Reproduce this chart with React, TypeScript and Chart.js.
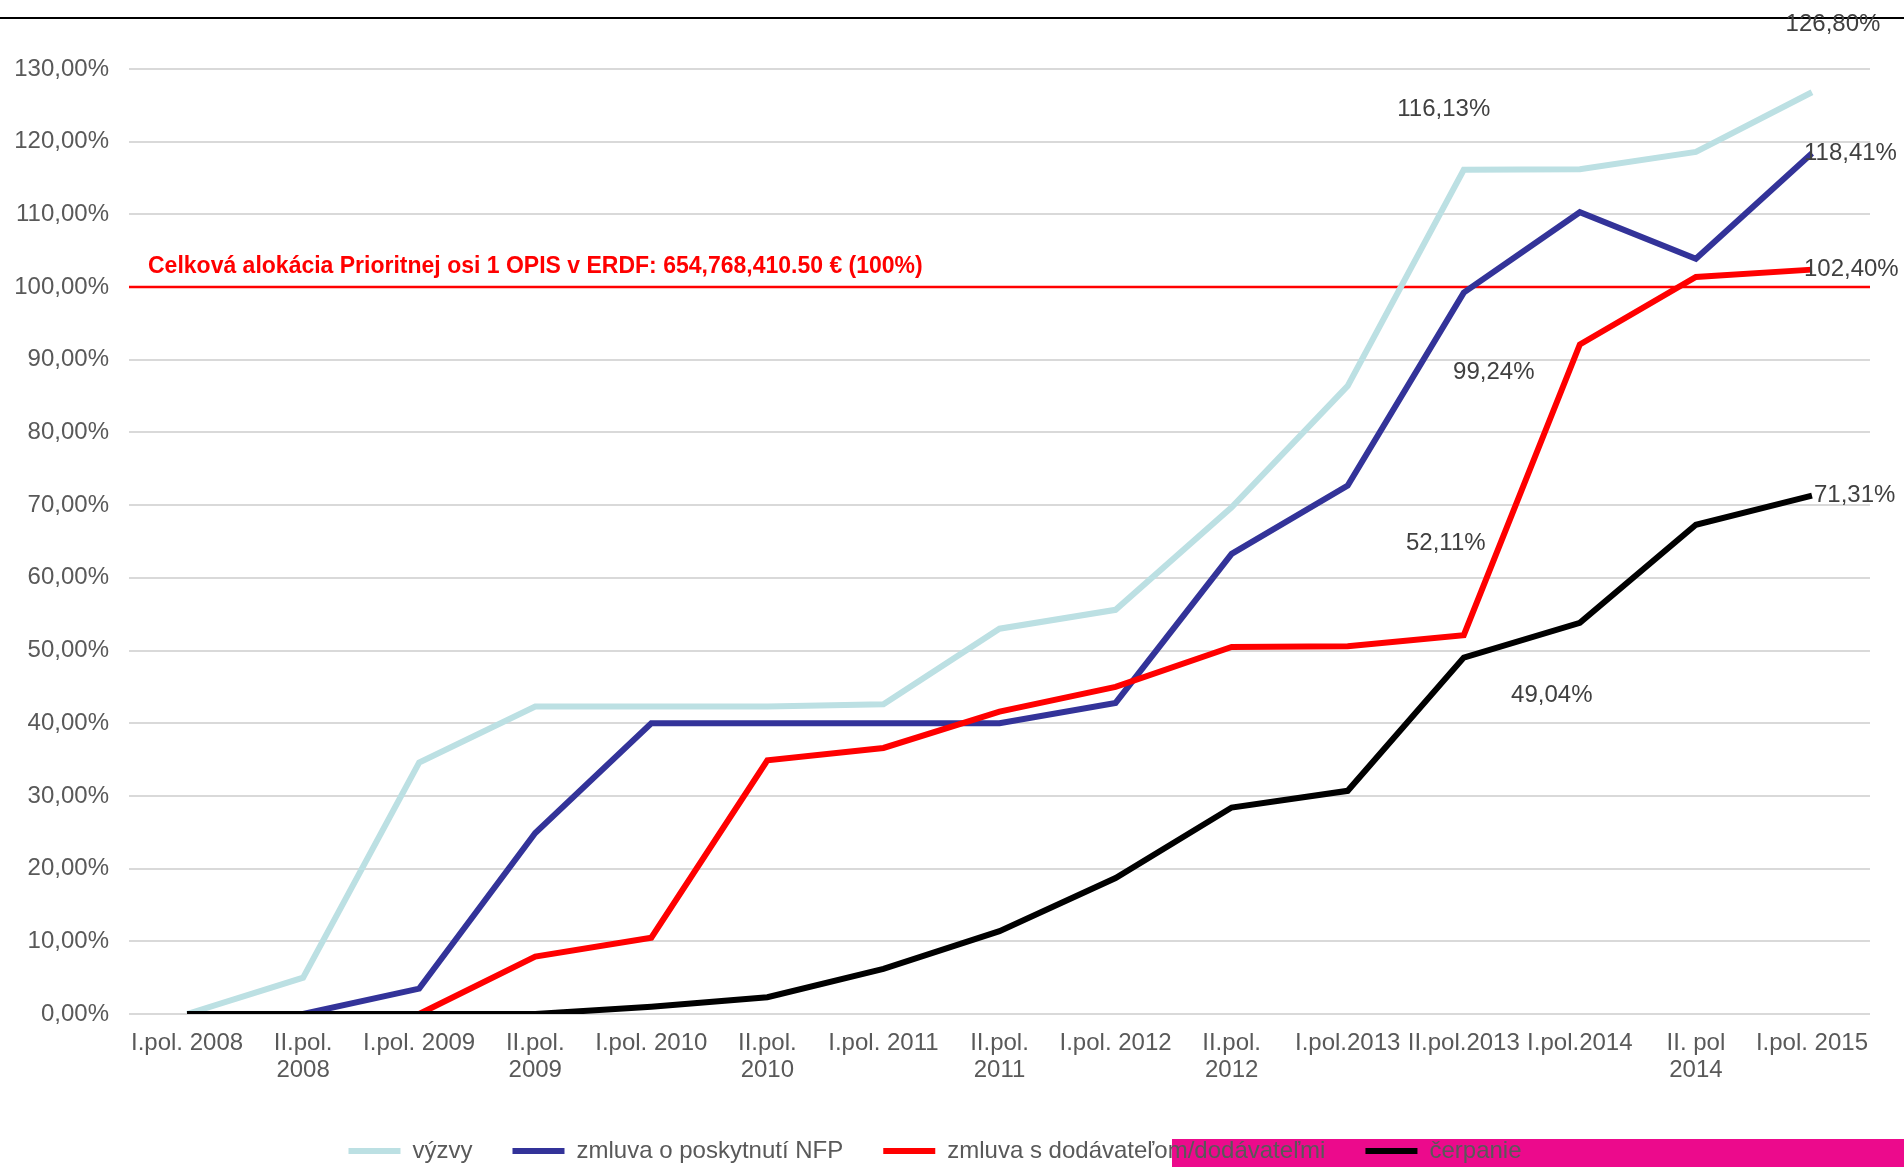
import React, { useEffect, useRef } from 'react';
import { Chart, registerables } from 'chart.js';

Chart.register(...registerables);

const categories: (string | string[])[] = [
  'I.pol. 2008', ['II.pol.', '2008'], 'I.pol. 2009', ['II.pol.', '2009'],
  'I.pol. 2010', ['II.pol.', '2010'], 'I.pol. 2011', ['II.pol.', '2011'],
  'I.pol. 2012', ['II.pol.', '2012'], 'I.pol.2013', 'II.pol.2013',
  'I.pol.2014', ['II. pol', '2014'], 'I.pol. 2015',
];

const vyzvy = [0, 5.0, 34.6, 42.3, 42.3, 42.3, 42.6, 53.0, 55.6, 69.7, 86.4, 116.13, 116.2, 118.6, 126.8];
const zmluvaNFP = [0, 0, 3.5, 24.9, 40.0, 40.0, 40.0, 40.0, 42.8, 63.3, 72.7, 99.24, 110.3, 103.9, 118.41];
const zmluvaDodavatel = [0, 0, 0, 7.9, 10.5, 34.9, 36.6, 41.6, 45.0, 50.5, 50.6, 52.11, 92.1, 101.4, 102.4];
const cerpanie = [0, 0, 0, 0, 1.0, 2.3, 6.2, 11.4, 18.7, 28.4, 30.7, 49.04, 53.8, 67.3, 71.31];

const seriesNames = ['výzvy', 'zmluva o poskytnutí NFP', 'zmluva s dodávateľom/dodávateľmi', 'čerpanie'];
const seriesColors = ['#BCE0E3', '#333399', '#FF0000', '#000000'];

const yMin = 0;
const yMax = 130;
const yStep = 10;

const allocationValue = 100;
const allocationLabel = 'Celková alokácia Prioritnej osi 1 OPIS v ERDF: 654,768,410.50 € (100%)';

// which points carry a value label: [seriesIndex, pointIndex]
const labelledPoints: [number, number][] = [
  [0, 14], [0, 11], [1, 14], [1, 11], [2, 14], [2, 11], [3, 14], [3, 11],
];

const FONT = '"Liberation Sans", Arial, sans-serif';
const fmt = (v: number) => v.toFixed(2).replace('.', ',') + '%';

// label placement relative to the point (style, not data)
const labelOffsets: Record<string, { dx: number; dy: number; align: CanvasTextAlign }> = {
  '0-14': { dx: 21, dy: -68, align: 'center' },
  '0-11': { dx: -20, dy: -60, align: 'center' },
  '1-14': { dx: -8, dy: 0, align: 'left' },
  '1-11': { dx: 30, dy: 80, align: 'center' },
  '2-14': { dx: -8, dy: 0, align: 'left' },
  '2-11': { dx: -18, dy: -92, align: 'center' },
  '3-14': { dx: 2, dy: 0, align: 'left' },
  '3-11': { dx: 88, dy: 38, align: 'center' },
};

const decorPlugin = {
  id: 'decor',
  beforeDraw(chart: any) {
    const { ctx, width } = chart;
    ctx.save();
    ctx.fillStyle = '#FFFFFF';
    ctx.fillRect(0, 0, chart.width, chart.height);
    ctx.fillStyle = '#EC0A8C';
    ctx.fillRect(1172, 1139, width - 1172, chart.height - 1139);
    ctx.strokeStyle = '#000000';
    ctx.lineWidth = 2;
    ctx.beginPath();
    ctx.moveTo(0, 18);
    ctx.lineTo(width, 18);
    ctx.stroke();
    ctx.restore();
  },
  beforeDatasetsDraw(chart: any) {
    const { ctx, chartArea } = chart;
    const y = chart.scales.y.getPixelForValue(allocationValue);
    ctx.save();
    ctx.strokeStyle = '#FF0000';
    ctx.lineWidth = 2.5;
    ctx.beginPath();
    ctx.moveTo(chartArea.left, y);
    ctx.lineTo(chartArea.right, y);
    ctx.stroke();
    ctx.fillStyle = '#FF0000';
    ctx.font = `bold 23px ${FONT}`;
    ctx.textAlign = 'left';
    ctx.textBaseline = 'middle';
    ctx.fillText(allocationLabel, chartArea.left + 19, y - 20);
    ctx.restore();
  },
  afterDatasetsDraw(chart: any) {
    const { ctx } = chart;
    ctx.save();
    ctx.fillStyle = '#404040';
    ctx.font = `24px ${FONT}`;
    ctx.textBaseline = 'middle';
    labelledPoints.forEach(([s, i]) => {
      const el = chart.getDatasetMeta(s).data[i];
      const value = chart.data.datasets[s].data[i] as number;
      const off = labelOffsets[`${s}-${i}`];
      ctx.textAlign = off.align;
      ctx.fillText(fmt(value), el.x + off.dx, el.y + off.dy);
    });
    ctx.restore();
  },
};

export default function App() {
  const ref = useRef<HTMLCanvasElement | null>(null);

  useEffect(() => {
    if (!ref.current) return;
    const series = [vyzvy, zmluvaNFP, zmluvaDodavatel, cerpanie];
    const chart = new Chart(ref.current, {
      type: 'line',
      data: {
        labels: categories as any,
        datasets: series.map((d, i) => ({
          label: seriesNames[i],
          data: d,
          borderColor: seriesColors[i],
          backgroundColor: seriesColors[i],
          borderWidth: 6,
          pointRadius: 0,
          tension: 0,
          fill: false,
          order: series.length - i,
        })),
      },
      options: {
        responsive: false,
        animation: false,
        devicePixelRatio: 1,
        layout: { padding: { top: 69, right: 34, bottom: -6, left: 0 } },
        plugins: {
          tooltip: { enabled: false },
          legend: {
            position: 'bottom',
            labels: {
              boxWidth: 52,
              boxHeight: 6,
              padding: 40,
              color: '#595959',
              font: { family: FONT, size: 24 },
              generateLabels: (c: any) =>
                c.data.datasets.map((ds: any, i: number) => ({
                  text: ds.label,
                  fillStyle: ds.borderColor,
                  strokeStyle: ds.borderColor,
                  lineWidth: 0,
                  hidden: false,
                  datasetIndex: i,
                  fontColor: '#595959',
                })),
            },
          },
        },
        scales: {
          x: {
            offset: true,
            grid: { display: false, drawTicks: false },
            border: { display: false },
            ticks: {
              autoSkip: false,
              maxRotation: 0,
              minRotation: 0,
              padding: 16,
              color: '#595959',
              font: { family: FONT, size: 24, lineHeight: 1.125 },
            },
            afterFit: (scale: any) => { scale.height = 85; },
          },
          y: {
            min: yMin,
            max: yMax,
            grid: { color: '#D9D9D9', lineWidth: 2, drawTicks: false },
            border: { display: false },
            ticks: {
              stepSize: yStep,
              padding: 20,
              color: '#595959',
              font: { family: FONT, size: 24 },
              callback: (v: any) => fmt(Number(v)),
            },
            afterFit: (scale: any) => { scale.width = 129; },
          },
        },
      },
      plugins: [decorPlugin],
    });
    return () => chart.destroy();
  }, []);

  return (
    <div style={{ position: 'absolute', left: 0, top: 0, width: 1904, height: 1167 }}>
      <canvas ref={ref} width={1904} height={1167} style={{ width: 1904, height: 1167, display: 'block' }} />
    </div>
  );
}
